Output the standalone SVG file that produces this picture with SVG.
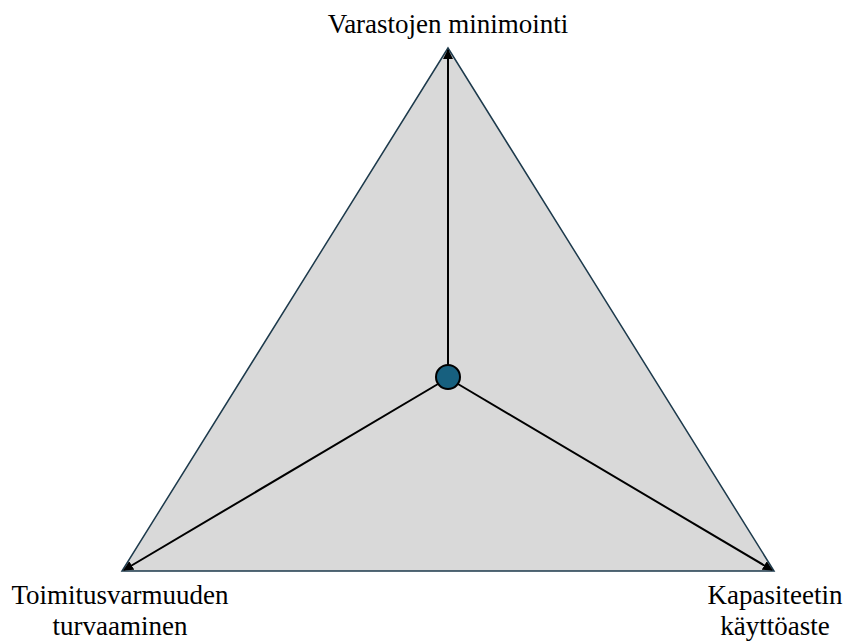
<svg xmlns="http://www.w3.org/2000/svg" width="845" height="641" viewBox="0 0 845 641">
<style>
.lbl{font-family:'Liberation Serif','Times New Roman',serif;font-size:27px;fill:#000;text-anchor:middle}
.conn{stroke:#000;stroke-width:2;fill:none}
</style>
<defs>
<marker id="ah" viewBox="0 0 10 10" refX="9" refY="5" markerWidth="5" markerHeight="5" orient="auto" markerUnits="strokeWidth">
<path d="M0,0 L10,5 L0,10 z" fill="#000"/>
</marker>
</defs>
<rect width="845" height="641" fill="#fff"/>
<g id="triangle">
<polygon points="448,48 122,571 774,571" fill="#d9d9d9" stroke="#1d3a4c" stroke-width="1.5" stroke-linejoin="miter"/>
</g>
<g id="connectors">
<line class="conn" x1="448" y1="365" x2="448" y2="50" marker-end="url(#ah)"/>
<line class="conn" x1="438" y1="384" x2="124" y2="570" marker-end="url(#ah)"/>
<line class="conn" x1="458" y1="384" x2="772" y2="570" marker-end="url(#ah)"/>
</g>
<g id="center">
<circle cx="448" cy="377" r="12" fill="#17607f" stroke="#000" stroke-width="2"/>
</g>
<g id="top-label"><text class="lbl" x="448" y="33">Varastojen minimointi</text></g>
<g id="left-label"><text class="lbl" x="120" y="604">Toimitusvarmuuden</text><text class="lbl" x="120" y="635">turvaaminen</text></g>
<g id="right-label"><text class="lbl" x="775" y="604">Kapasiteetin</text><text class="lbl" x="775" y="635">käyttöaste</text></g>
</svg>
